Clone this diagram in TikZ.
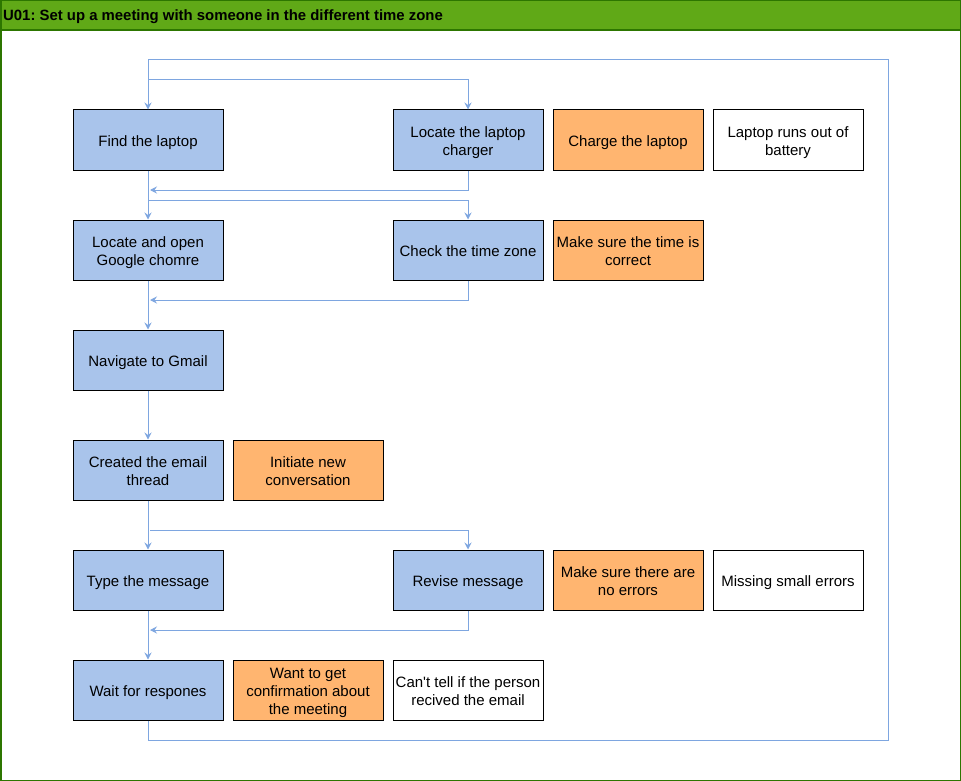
\documentclass[tikz,border=0pt]{standalone}
\usepackage{fontspec}
\setmainfont{Liberation Sans}
\usetikzlibrary{arrows.meta}
\frenchspacing
\definecolor{framegreen}{HTML}{2D7600}
\definecolor{headgreen}{HTML}{60A917}
\definecolor{stepblue}{HTML}{A9C4EB}
\definecolor{needorange}{HTML}{FFB570}
\definecolor{linkblue}{HTML}{7EA6E0}
% card text: centred lines, ink set slightly below the box centre
\newcommand\cardtext[1]{\raisebox{-2.5pt}[\height][\depth]{\begin{tabular}{@{}c@{}}#1\end{tabular}}}
\tikzset{
  card/.style={draw=black, line width=1pt, minimum width=150pt, minimum height=60pt,
    inner sep=2pt, font=\fontsize{15}{18}\selectfont},
  stepbox/.style={card, fill=stepblue},
  needbox/.style={card, fill=needorange},
  painbox/.style={card, fill=white},
  conn/.style={draw=linkblue, line width=1pt,
    -{Stealth[length=7pt,width=7pt,inset=2.5pt]}}
}
\begin{document}
\begin{tikzpicture}[x=1pt,y=-1pt]
  % page and frame
  \useasboundingbox (0,0) rectangle (961,781);
  \fill[white] (0,0) rectangle (961,781);
  \fill[headgreen] (0.75,0.75) rectangle (960.25,30);
  \draw[framegreen, line width=1.5pt] (0.75,30) -- (960.25,30);
  \draw[framegreen, line width=1.5pt] (0.75,0.75) rectangle (960.25,780.25);
  \node[anchor=west, font=\bfseries\fontsize{14.9}{18}\selectfont, inner sep=0pt]
    (title) at (3,17) {U01: Set up a meeting with someone in the different time zone};

  % row 1
  \node[stepbox] (find)    at (148,140) {\cardtext{Find the laptop}};
  \node[stepbox] (charger) at (468,140) {\cardtext{Locate the laptop\\charger}};
  \node[needbox] (charge)  at (628,140) {\cardtext{Charge the laptop}};
  \node[painbox] (battery) at (788,140) {\cardtext{Laptop runs out of\\battery}};
  % row 2
  \node[stepbox] (chrome)  at (148,250) {\cardtext{Locate and open\\Google chomre}};
  \node[stepbox] (tz)      at (468,250) {\cardtext{Check the time zone}};
  \node[needbox] (timeok)  at (628,250) {\cardtext{Make sure the time is\\correct}};
  % row 3
  \node[stepbox] (gmail)   at (148,360) {\cardtext{Navigate to Gmail}};
  % row 4
  \node[stepbox] (thread)  at (148,470) {\cardtext{Created the email\\thread}};
  \node[needbox] (newconv) at (308,470) {\cardtext{Initiate new\\conversation}};
  % row 5
  \node[stepbox] (type)    at (148,580) {\cardtext{Type the message}};
  \node[stepbox] (revise)  at (468,580) {\cardtext{Revise message}};
  \node[needbox] (noerr)   at (628,580) {\cardtext{Make sure there are\\no errors}};
  \node[painbox] (missing) at (788,580) {\cardtext{Missing small errors}};
  % row 6
  \node[stepbox] (wait)    at (148,690) {\cardtext{Wait for respones}};
  \node[needbox] (confirm) at (308,690) {\cardtext{Want to get\\confirmation about\\the meeting}};
  \node[painbox] (unsure)  at (468,690) {\cardtext{Can\textquotesingle t tell if the person\\recived the email}};

  % routing points
  \coordinate (loopBR) at (888,740);
  \coordinate (loopTL) at (148,60);
  \coordinate (split1) at (148,80);
  \coordinate (join1)  at (150,190);
  \coordinate (split2) at (148,200);
  \coordinate (join2)  at (150,300);
  \coordinate (split3) at (150,530);
  \coordinate (join3)  at (150,630);

  % connectors
  \draw[conn] (wait.south) |- (loopBR) |- (loopTL) -- (find.north);
  \draw[conn] (split1) -| (charger.north);
  \draw[conn] (find) -- (chrome);
  \draw[conn] (charger.south) |- (join1);
  \draw[conn] (split2) -| (tz.north);
  \draw[conn] (chrome) -- (gmail);
  \draw[conn] (tz.south) |- (join2);
  \draw[conn] (gmail) -- (thread);
  \draw[conn] (thread) -- (type);
  \draw[conn] (split3) -| (revise.north);
  \draw[conn] (type) -- (wait);
  \draw[conn] (revise.south) |- (join3);
\end{tikzpicture}
\end{document}
